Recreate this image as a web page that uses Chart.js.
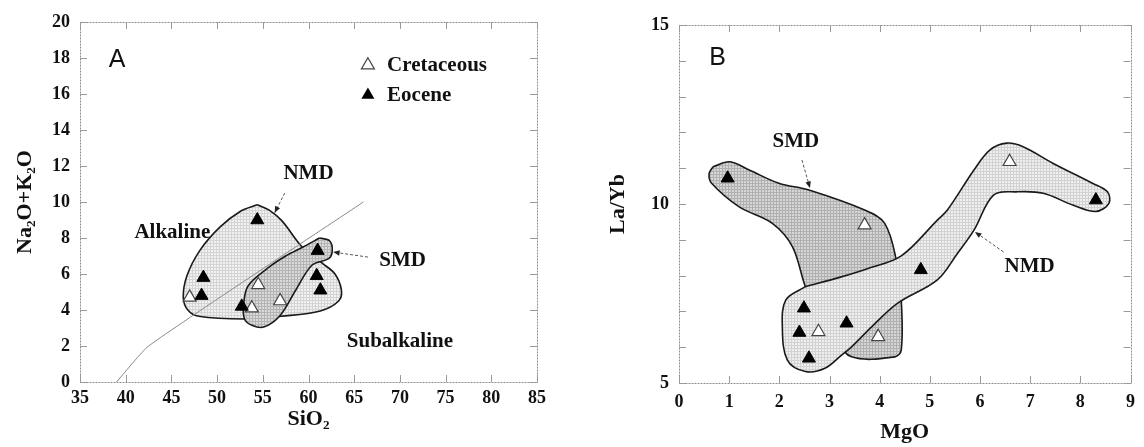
<!DOCTYPE html>
<html>
<head>
<meta charset="utf-8">
<script src="https://cdn.jsdelivr.net/npm/chart.js@4/dist/chart.umd.min.js"></script>
<style>
html,body{margin:0;padding:0;background:#fff;}
#wrap{position:relative;width:1144px;height:447px;overflow:hidden;}
#ca{position:absolute;left:0;top:0;width:572px;height:447px;}
#cb{position:absolute;left:572px;top:0;width:572px;height:447px;}
</style>
</head>
<body>
<div id="wrap">
<canvas id="ca" width="572" height="447"></canvas>
<canvas id="cb" width="572" height="447"></canvas>
</div>
<script>
// ---------- Panel A data (SiO2 vs Na2O+K2O) ----------
const xTicksA = [35, 40, 45, 50, 55, 60, 65, 70, 75, 80, 85];
const yTicksA = [0, 2, 4, 6, 8, 10, 12, 14, 16, 18, 20];
const sio2Cretaceous = [47.0, 53.8, 54.5, 56.9];
const alkCretaceous  = [4.7, 4.1, 5.4, 4.5];
const sio2Eocene = [54.4, 48.5, 48.3, 52.7, 61.0, 60.9, 61.3];
const alkEocene  = [9.0, 5.8, 4.8, 4.2, 7.3, 5.9, 5.1];
// alkaline / subalkaline divide
const divideSiO2 = [39.0, 42.5, 66.0];
const divideAlk  = [0.0, 2.0, 10.0];
// field outlines
const nmdA_x = [54.4, 55.7, 57.1, 59.3, 61.5, 62.9, 63.6, 63.3, 61.3, 57.0, 53.0, 48.0, 46.8, 46.3, 46.7, 48.1, 50.3, 52.6, 54.4];
const nmdA_y = [9.85, 9.55, 8.95, 7.5, 6.6, 6.0, 5.1, 4.5, 3.95, 3.65, 3.5, 3.65, 4.0, 4.7, 5.9, 7.3, 8.6, 9.5, 9.85];
const smdA_x = [61.2, 62.3, 62.6, 62.2, 60.4, 58.6, 56.9, 55.1, 53.8, 53.0, 52.9, 53.4, 55.6, 57.5, 59.4, 61.2];
const smdA_y = [8.0, 7.85, 7.3, 6.85, 6.5, 5.1, 3.7, 3.05, 3.15, 3.5, 4.3, 5.35, 6.35, 7.0, 7.5, 8.0];

// ---------- Panel B data (MgO vs La/Yb) ----------
const xTicksB = [0, 1, 2, 3, 4, 5, 6, 7, 8, 9];
const yLabelsB = [5, 10, 15];
const mgoCretaceous  = [3.70, 2.78, 3.97, 6.59];
const laybCretaceous = [9.41, 6.43, 6.29, 11.18];
const mgoEocene  = [0.97, 2.49, 2.40, 3.34, 2.59, 4.82, 8.31];
const laybEocene = [10.72, 7.09, 6.41, 6.67, 5.69, 8.16, 10.11];
const smdB_x = [0.68, 1.01, 1.40, 1.99, 2.59, 3.70, 4.10, 4.33, 4.43, 4.43, 4.30, 3.44, 3.10, 2.70, 2.52, 2.26, 1.86, 1.20, 0.65, 0.60, 0.68];
const smdB_y = [11.04, 11.18, 10.95, 10.58, 10.39, 9.83, 9.46, 8.44, 7.32, 5.92, 5.73, 5.73, 6.3, 7.2, 7.69, 8.81, 9.46, 9.92, 10.58, 10.85, 11.04];
const nmdB_x = [2.52, 3.20, 3.77, 4.43, 5.15, 5.35, 5.88, 6.20, 6.53, 6.86, 7.45, 8.24, 8.54, 8.57, 8.31, 7.85, 7.26, 6.73, 6.27, 5.88, 5.55, 5.15, 4.36, 3.84, 3.44, 3.24, 2.91, 2.52, 2.16, 2.06, 2.13, 2.52];
const nmdB_y = [7.69, 7.95, 8.20, 8.55, 9.55, 9.83, 10.95, 11.51, 11.70, 11.60, 11.14, 10.58, 10.34, 10.02, 9.79, 9.97, 10.30, 10.34, 10.25, 9.27, 8.62, 7.88, 7.23, 6.57, 6.01, 5.78, 5.41, 5.32, 5.64, 6.57, 7.32, 7.69];

// ---------- helpers ----------
const zip = (xs, ys) => xs.map((v, i) => ({x: v, y: ys[i]}));
const SERIF = '"Liberation Serif", "Times New Roman", serif';
const SANS = '"Liberation Sans", Arial, sans-serif';
const INK = '#111';

function makePattern(canvasId, bg, fg) {
  const c = document.createElement('canvas');
  c.width = 3; c.height = 3;
  const g = c.getContext('2d');
  g.fillStyle = bg; g.fillRect(0, 0, 3, 3);
  g.fillStyle = fg; g.fillRect(0, 0, 3, 1); g.fillRect(0, 0, 1, 3);
  return document.getElementById(canvasId).getContext('2d').createPattern(c, 'repeat');
}

function tri(ctx, px, py, r, filled) {
  ctx.beginPath();
  ctx.moveTo(px, py - r);
  ctx.lineTo(px + r * 0.866, py + r * 0.5);
  ctx.lineTo(px - r * 0.866, py + r * 0.5);
  ctx.closePath();
  if (filled) { ctx.fillStyle = '#000'; ctx.fill(); }
  else { ctx.fillStyle = '#fff'; ctx.fill(); ctx.strokeStyle = '#444'; ctx.lineWidth = 1.2; ctx.stroke(); }
}

function textAt(chart, str, xv, yv, font, align) {
  const ctx = chart.ctx;
  ctx.save();
  ctx.font = font; ctx.fillStyle = INK;
  ctx.textAlign = align || 'center'; ctx.textBaseline = 'middle';
  ctx.fillText(str, chart.scales.x.getPixelForValue(xv), chart.scales.y.getPixelForValue(yv));
  ctx.restore();
}

function arrowAt(chart, x0, y0, x1, y1) {
  const ctx = chart.ctx, sx = chart.scales.x, sy = chart.scales.y;
  const a = sx.getPixelForValue(x0), b = sy.getPixelForValue(y0);
  const c = sx.getPixelForValue(x1), d = sy.getPixelForValue(y1);
  const ang = Math.atan2(d - b, c - a);
  ctx.save();
  ctx.strokeStyle = '#555'; ctx.lineWidth = 1; ctx.setLineDash([3, 2]);
  ctx.beginPath(); ctx.moveTo(a, b); ctx.lineTo(c, d); ctx.stroke();
  ctx.setLineDash([]);
  ctx.fillStyle = '#222';
  ctx.beginPath();
  ctx.moveTo(c, d);
  ctx.lineTo(c - 7 * Math.cos(ang - 0.4), d - 7 * Math.sin(ang - 0.4));
  ctx.lineTo(c - 7 * Math.cos(ang + 0.4), d - 7 * Math.sin(ang + 0.4));
  ctx.closePath(); ctx.fill();
  ctx.restore();
}

function framePlugin(name, annotate) {
  return {
    id: 'frame' + name,
    beforeDatasetsDraw(chart) {
      const {ctx, chartArea: a, scales: {x, y}} = chart;
      ctx.save();
      ctx.strokeStyle = '#8e8e8e'; ctx.lineWidth = 1; ctx.setLineDash([2, 1]);
      ctx.strokeRect(Math.round(a.left) + 0.5, Math.round(a.top) + 0.5, Math.round(a.right - a.left), Math.round(a.bottom - a.top));
      ctx.setLineDash([]);
      ctx.strokeStyle = '#9a9a9a';
      ctx.beginPath();
      x.ticks.forEach(t => {
        const p = Math.round(x.getPixelForValue(t.value)) + 0.5;
        ctx.moveTo(p, a.bottom); ctx.lineTo(p, a.bottom - 7);
        ctx.moveTo(p, a.top); ctx.lineTo(p, a.top + 7);
      });
      y.ticks.forEach(t => {
        const p = Math.round(y.getPixelForValue(t.value)) + 0.5;
        ctx.moveTo(a.left, p); ctx.lineTo(a.left + 7, p);
        ctx.moveTo(a.right, p); ctx.lineTo(a.right - 7, p);
      });
      ctx.stroke();
      ctx.restore();
    },
    afterDatasetsDraw(chart) { annotate(chart); }
  };
}

function axisCfg(min, max, step, titleText, tickPad, fitSize, isX, cb) {
  const c = {
    type: 'linear', min: min, max: max,
    ticks: {stepSize: step, autoSkip: false, maxRotation: 0, padding: tickPad, color: INK,
            font: {family: SERIF, weight: 'bold', size: 18}},
    grid: {display: false, drawTicks: false},
    border: {display: false},
    title: {display: true, text: titleText, color: INK, padding: 0,
            font: {family: SERIF, weight: 'bold', size: 22}},
    afterFit: isX ? (s => { s.height = fitSize; }) : (s => { s.width = fitSize; })
  };
  if (cb) c.ticks.callback = cb;
  return c;
}

function pointSets(xc, yc, xe, ye) {
  return [
    {label: 'Eocene', data: zip(xe, ye), pointStyle: 'triangle', pointRadius: 7.5,
     backgroundColor: '#000', borderColor: '#000', borderWidth: 1, order: 0},
    {label: 'Cretaceous', data: zip(xc, yc), pointStyle: 'triangle', pointRadius: 7.5,
     backgroundColor: '#fff', borderColor: '#444', borderWidth: 1.2, order: 0}
  ];
}

function fieldSet(label, xs, ys, pattern, order) {
  return {label: label, data: zip(xs, ys), showLine: true, fill: 'shape', tension: 0.35,
          pointRadius: 0, borderColor: '#1a1a1a', borderWidth: 1.6, backgroundColor: pattern, order: order};
}

const commonPlugins = {legend: {display: false}, tooltip: {enabled: false}};

// ---------- Chart A ----------
const lightA = makePattern('ca', '#f1f1f1', '#d4d4d4');
const darkA  = makePattern('ca', '#d9d9d9', '#b4b4b4');
new Chart(document.getElementById('ca'), {
  type: 'scatter',
  data: {
    datasets: [
      ...pointSets(sio2Cretaceous, alkCretaceous, sio2Eocene, alkEocene),
      {label: 'divide', data: zip(divideSiO2, divideAlk), showLine: true, tension: 0.15, pointRadius: 0,
       borderColor: '#8a8a8a', borderWidth: 1, fill: false, order: 1},
      fieldSet('SMD', smdA_x, smdA_y, darkA, 2),
      fieldSet('NMD', nmdA_x, nmdA_y, lightA, 3)
    ]
  },
  options: {
    responsive: false, animation: false, events: [],
    layout: {padding: {left: 12, right: 35, top: 22, bottom: 14}},
    scales: {
      x: axisCfg(35, 85, 5, 'SiO₂', 6, 51, true),
      y: axisCfg(0, 20, 2, 'Na₂O+K₂O', 10, 68, false)
    },
    plugins: commonPlugins
  },
  plugins: [framePlugin('A', chart => {
    const ctx = chart.ctx, sx = chart.scales.x, sy = chart.scales.y;
    textAt(chart, 'A', 39.05, 17.9, '25px ' + SANS);
    const lab = 'bold 21px ' + SERIF;
    textAt(chart, 'Alkaline', 45.1, 8.28, lab);
    textAt(chart, 'NMD', 60.0, 11.6, lab);
    textAt(chart, 'SMD', 70.3, 6.72, lab);
    textAt(chart, 'Subalkaline', 70.0, 2.22, lab);
    arrowAt(chart, 57.4, 10.5, 56.3, 9.4);
    arrowAt(chart, 66.5, 6.94, 62.7, 7.22);
    ctx.save();
    tri(ctx, sx.getPixelForValue(66.5), sy.getPixelForValue(17.6), 7.5, false);
    tri(ctx, sx.getPixelForValue(66.5), sy.getPixelForValue(15.94), 7.5, true);
    ctx.restore();
    textAt(chart, 'Cretaceous', 68.6, 17.6, lab, 'left');
    textAt(chart, 'Eocene', 68.6, 15.94, lab, 'left');
  })]
});

// ---------- Chart B ----------
const lightB = makePattern('cb', '#efefef', '#d2d2d2');
const darkB  = makePattern('cb', '#d6d6d6', '#b0b0b0');
new Chart(document.getElementById('cb'), {
  type: 'scatter',
  data: {
    datasets: [
      ...pointSets(mgoCretaceous, laybCretaceous, mgoEocene, laybEocene),
      fieldSet('NMD', nmdB_x, nmdB_y, lightB, 2),
      fieldSet('SMD', smdB_x, smdB_y, darkB, 3)
    ]
  },
  options: {
    responsive: false, animation: false, events: [],
    layout: {padding: {left: 33, right: 9, top: 25, bottom: 1}},
    scales: {
      x: axisCfg(0, 9, 1, 'MgO', 9, 63, true),
      y: axisCfg(5, 15, 1, 'La/Yb', 10, 74, false, v => yLabelsB.includes(v) ? String(v) : '')
    },
    plugins: commonPlugins
  },
  plugins: [framePlugin('B', chart => {
    textAt(chart, 'B', 0.77, 14.08, '25px ' + SANS);
    const lab = 'bold 21px ' + SERIF;
    textAt(chart, 'SMD', 2.33, 11.73, lab);
    textAt(chart, 'NMD', 6.99, 8.24, lab);
    arrowAt(chart, 2.45, 11.23, 2.61, 10.45);
    arrowAt(chart, 6.47, 8.66, 5.90, 9.22);
  })]
});
</script>
</body>
</html>
